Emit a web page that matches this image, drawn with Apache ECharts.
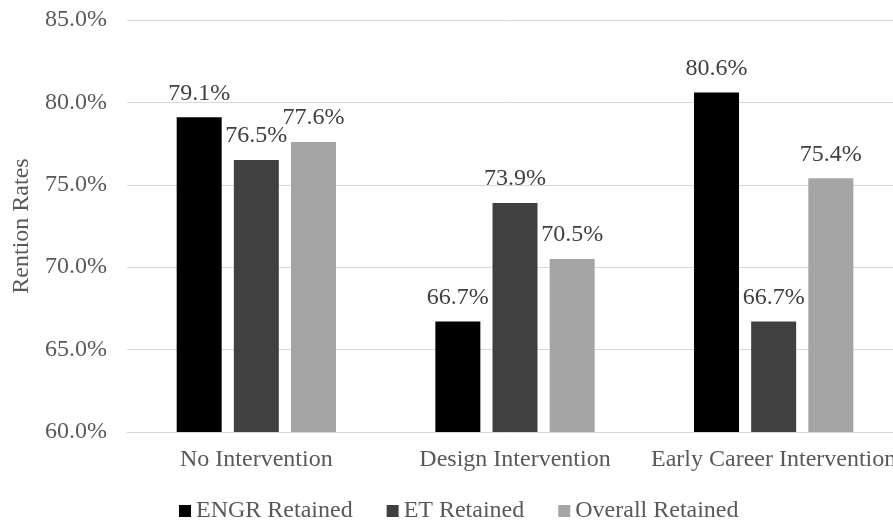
<!DOCTYPE html>
<html><head><meta charset="utf-8">
<script src="https://cdn.jsdelivr.net/npm/echarts@6/dist/echarts.min.js"></script>
<style>html,body{margin:0;padding:0;background:#fff}#c{width:893px;height:523px}</style>
</head><body><div id="c"></div>
<script>
const categories = ["No Intervention", "Design Intervention", "Early Career Intervention"];
const engrRetained = [79.1, 66.7, 80.6];
const etRetained = [76.5, 73.9, 66.7];
const overallRetained = [77.6, 70.5, 75.4];
const seriesNames = ["ENGR Retained", "ET Retained", "Overall Retained"];
const yTicks = [60, 65, 70, 75, 80, 85];

const font = "'Liberation Serif', 'Times New Roman', serif";
const txt = '#595959';
const colors = ['#000000', '#404040', '#A5A5A5'];
const chart = echarts.init(document.getElementById('c'), null, {renderer: 'canvas'});
const mk = (name, data, i) => ({
  name, type: 'bar', data, barWidth: 45, barGap: '27%',
  itemStyle: {color: colors[i]},
  label: {show: true, position: 'top', distance: 12, formatter: p => p.value.toFixed(1) + '%',
    fontFamily: font, fontSize: 24, color: '#404040'}
});
chart.setOption({
  animation: false,
  textStyle: {fontFamily: font},
  grid: {left: 127, top: 20, width: 776, height: 412, containLabel: false, outerBoundsMode: 'none'},
  legend: {
    top: 499, left: 179, padding: 0, itemWidth: 12, itemHeight: 12, itemGap: 34,
    icon: 'rect', data: seriesNames,
    textStyle: {fontFamily: font, fontSize: 24, color: txt}
  },
  xAxis: {
    type: 'category', data: categories,
    axisLine: {show: true, lineStyle: {color: '#D9D9D9', width: 1}},
    axisTick: {show: false},
    axisLabel: {fontFamily: font, fontSize: 24, color: txt, margin: 16, interval: 0, hideOverlap: false}
  },
  yAxis: {
    type: 'value', min: yTicks[0], max: yTicks[yTicks.length - 1], interval: 5,
    name: 'Rention Rates', nameLocation: 'middle', nameGap: 90, nameRotate: 90,
    nameTextStyle: {fontFamily: font, fontSize: 24, color: txt},
    axisLine: {show: false}, axisTick: {show: false},
    splitLine: {lineStyle: {color: '#D9D9D9', width: 1}},
    axisLabel: {fontFamily: font, fontSize: 24, color: txt, margin: 20, formatter: v => v.toFixed(1) + '%'}
  },
  series: [mk(seriesNames[0], engrRetained, 0), mk(seriesNames[1], etRetained, 1), mk(seriesNames[2], overallRetained, 2)]
});
</script></body></html>
